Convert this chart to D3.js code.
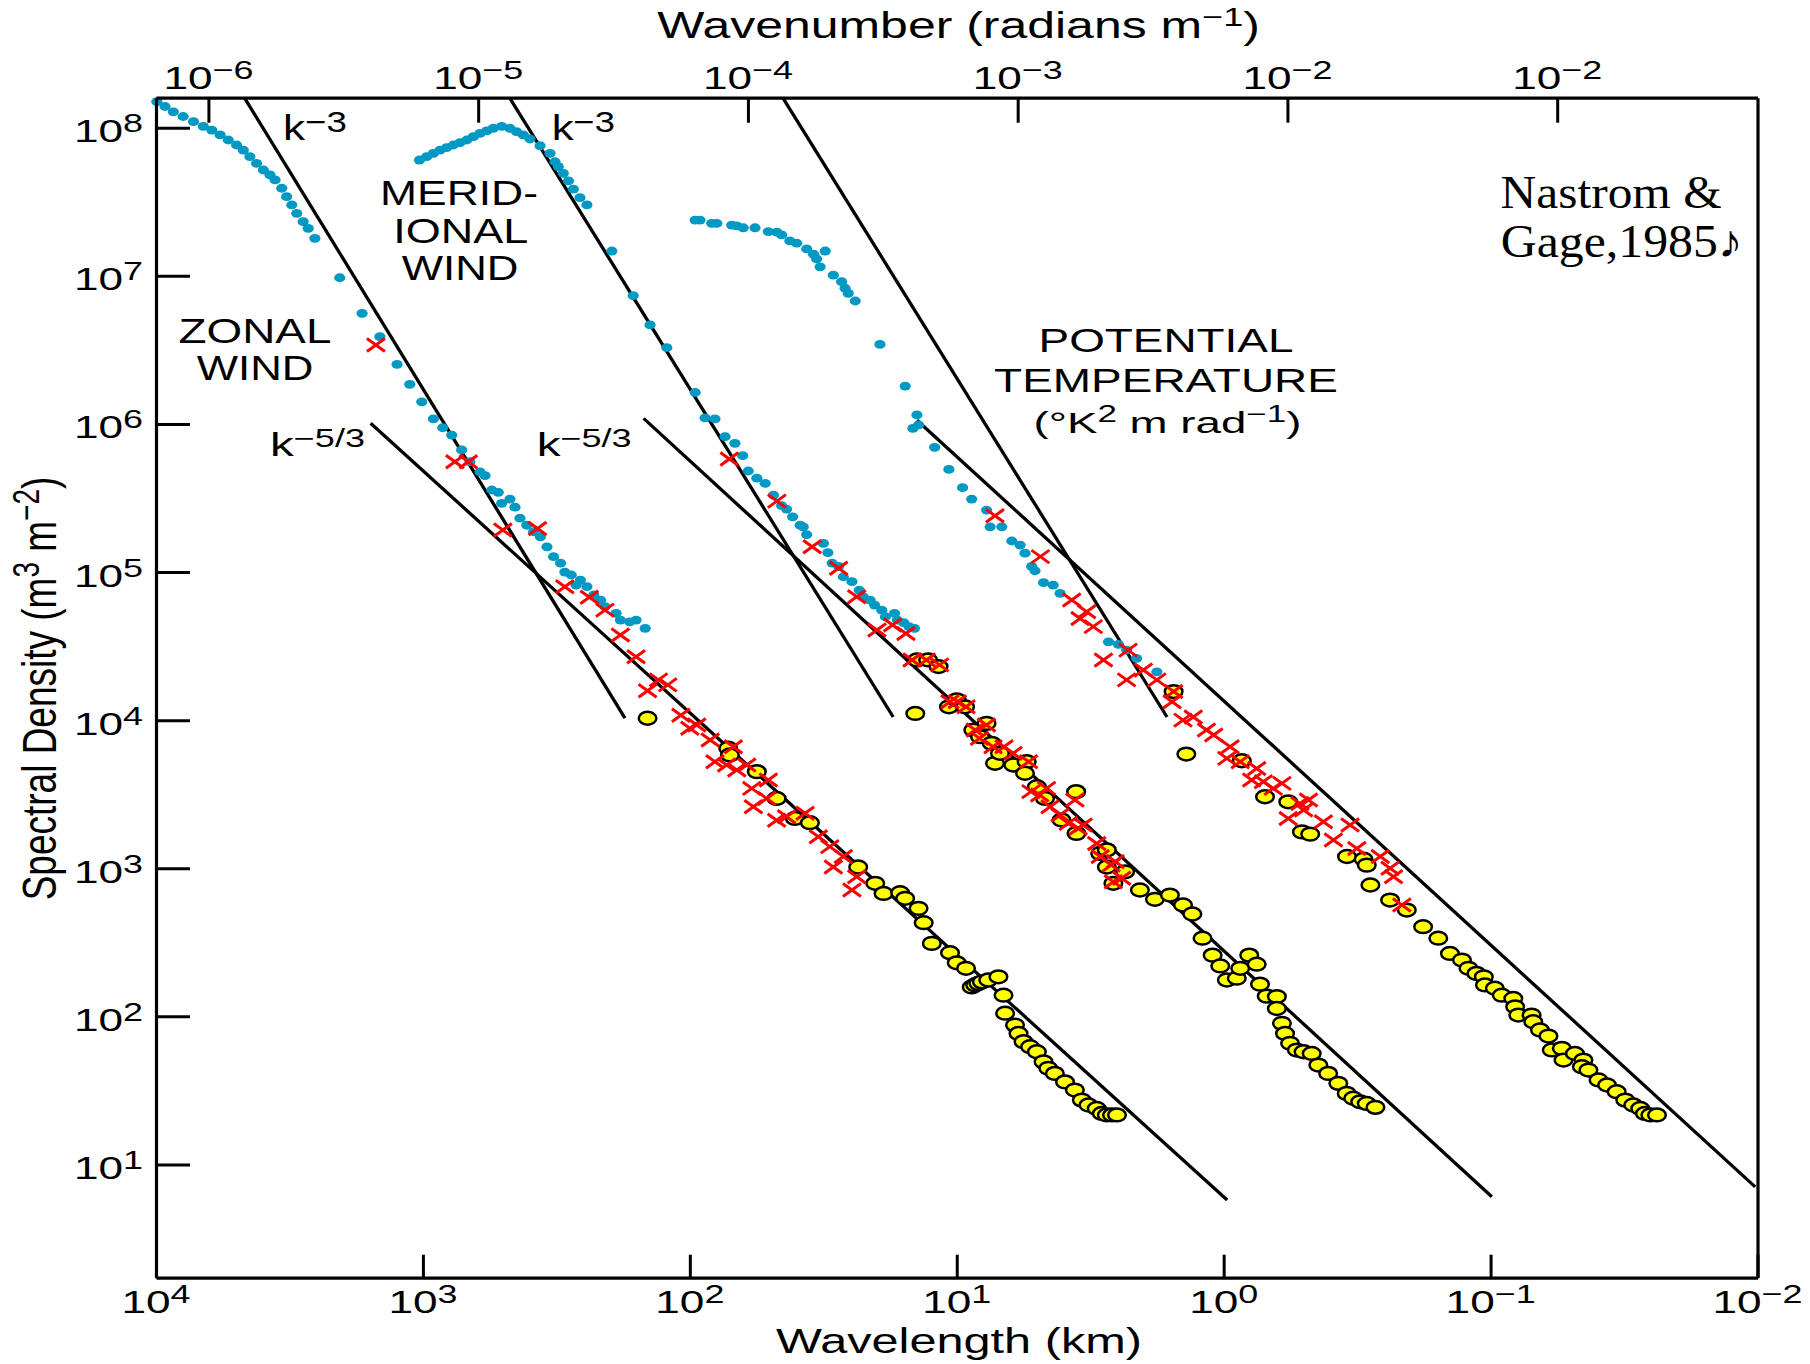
<!DOCTYPE html>
<html>
<head>
<meta charset="utf-8">
<script src="https://cdn.jsdelivr.net/npm/d3@7"></script>
<style>
  html, body { margin: 0; padding: 0; background: #fff; }
  svg { display: block; }
</style>
</head>
<body>
<svg id="chart" width="1810" height="1364"></svg>
<script>
// ---------------- DATA (wavelength km, spectral density) ----------------
const xTicks = [1e4, 1e3, 1e2, 1e1, 1e0, 1e-1, 1e-2];
const xTickExp = ["4", "3", "2", "1", "0", "−1", "−2"];
const yTicks = [1e8, 1e7, 1e6, 1e5, 1e4, 1e3, 1e2, 1e1];
const yTickExp = ["8", "7", "6", "5", "4", "3", "2", "1"];
const kTicks = [1e-6, 1e-5, 1e-4, 1e-3, 1e-2, 1e-1];
const kTickExp = ["−6", "−5", "−4", "−3", "−2", "−2"];

// Zonal wind
const zonalBlue = [[9930,1.50e8],[9250,1.39e8],[8610,1.28e8],[7910,1.19e8],[7240,1.10e8],[6650,1.02e8],[6180,9.64e7],[5750,8.93e7],[5360,8.26e7],[4990,7.64e7],[4710,7.06e7],[4450,6.37e7],[4200,5.75e7],[3960,5.18e7],[3740,4.80e7],[3580,4.44e7],[3380,3.90e7],[3240,3.42e7],[3100,3.01e7],[2970,2.64e7],[2810,2.32e7],[2690,2.09e7],[2540,1.79e7],[2050,9.7e6],[1690,5.58e6],[1450,3.88e6],[1250,2.52e6],[1120,1.85e6],[1010,1.41e6],[914,1.08e6],[843,9.42e5],[780,8.41e5],[716,6.67e5],[667,5.56e5],[611,4.75e5],[585,4.47e5],[552,3.58e5],[522,3.45e5],[507,2.91e5],[472,3.11e5],[452,2.74e5],[433,2.31e5],[408,2.07e5],[385,1.87e5],[363,1.73e5],[343,1.48e5],[324,1.27e5],[305,1.15e5],[294,1.00e5],[278,9.55e4],[257,8.83e4],[267,8.17e4],[243,7.96e4],[229,7.00e4],[216,6.47e4],[208,5.83e4],[189,5.26e4],[182,4.74e4],[168,4.61e4],[159,4.74e4],[147,4.17e4]];
const zonalRed = [[1500,3.41e6],[759,5.56e5],[676,5.56e5],[502,1.92e5],[372,1.97e5],[294,7.96e4],[238,6.75e4],[208,5.53e4],[182,3.76e4],[159,2.68e4],[131,1.87e4],[121,1.73e4],[144,1.58e4],[108,1.08e4],[100,8.81e3],[94.2,9.27e3],[83.9,7.35e3],[80.5,5.24e3],[72.8,4.98e3],[68.7,6.61e3],[66.7,4.60e3],[61.2,4.98e3],[58.6,3.46e3],[50.8,3.94e3],[57.8,2.60e3],[51.5,2.96e3],[47.3,2.11e3],[43.4,2.23e3],[37.0,2.35e3],[33.0,1.63e3],[29.9,1.40e3],[26.6,1.20e3],[29.0,1.02e3],[23.7,877],[24.7,713]];
const zonalYellow = [[144,1.03e4],[71.8,6.46e3],[70.8,5.82e3],[56.1,4.49e3],[47.3,2.96e3],[40.4,2.17e3],[35.5,2.03e3],[23.4,1.02e3],[20.2,791],[18.8,676],[16.3,684],[15.6,627],[13.9,536],[13.3,429],[12.4,311],[10.6,269],[10.0,230],[9.23,211],[8.79,158],[8.53,163],[8.30,167],[8.05,171],[7.62,176],[6.98,185],[6.68,139],[6.59,105],[6.05,87.3],[5.87,76.7],[5.62,67.5],[5.31,62.4],[5.01,57.7],[4.73,49.3],[4.54,44.6],[4.29,41.2],[3.93,36.1],[3.61,31.8],[3.40,27.2],[3.21,25.2],[2.99,23.9],[2.86,22.1],[2.74,21.6],[2.62,21.6],[2.51,21.6]];

// Meridional wind
const meridBlue = [[1030,6.05e7],[968,6.37e7],[914,6.71e7],[863,7.06e7],[815,7.33e7],[769,7.64e7],[726,7.93e7],[685,8.26e7],[647,8.69e7],[611,9.16e7],[577,9.51e7],[545,9.91e7],[507,1.02e8],[472,9.91e7],[446,9.40e7],[421,8.93e7],[397,8.39e7],[364,7.55e7],[334,6.71e7],[320,5.89e7],[311,5.46e7],[298,4.92e7],[285,4.37e7],[273,3.85e7],[258,3.37e7],[243,3.01e7],[196,1.47e7],[163,7.35e6],[141,4.66e6],[122,3.27e6],[95.5,1.63e6],[87.7,1.10e6],[80.5,1.08e6],[73.8,8.20e5],[67.8,7.40e5],[63.4,6.10e5],[60.4,4.81e5],[56.1,4.30e5],[52.2,3.97e5],[48.6,3.31e5],[45.3,2.81e5],[43.4,2.66e5],[41.2,2.36e5],[38.6,2.07e5],[37.6,2.02e5],[36.5,1.79e5],[31.6,1.56e5],[30.4,1.35e5],[29.3,1.15e5],[27.7,1.09e5],[26.6,9.29e4],[24.7,8.61e4],[23.2,7.55e4],[22.4,6.81e4],[21.1,6.47e4],[20.3,5.98e4],[19.1,5.53e4],[18.5,4.99e4],[17.1,5.26e4],[16.7,4.74e4],[15.8,4.55e4],[15.1,4.28e4],[14.4,4.17e4]];
const meridRed = [[71.1,5.79e5],[47.2,3.01e5],[34.8,1.48e5],[27.7,1.06e5],[23.7,6.81e4],[19.9,4.06e4],[17.4,4.39e4],[15.5,3.85e4],[14.7,2.55e4],[13.0,2.55e4],[11.6,2.36e4],[10.6,1.33e4],[9.95,1.33e4],[9.23,1.23e4],[8.53,8.57e3],[7.74,9.27e3],[8.22,7.53e3],[7.31,6.61e3],[6.65,6.61e3],[6.15,5.97e3],[5.38,5.24e3],[5.27,3.29e3],[4.89,3.12e3],[4.61,3.46e3],[3.61,2.89e3],[4.47,2.60e3],[4.10,2.29e3],[3.82,2.01e3],[3.51,1.86e3],[3.36,1.96e3],[2.99,1.47e3],[2.90,1.20e3],[2.55,1.11e3],[2.59,811],[2.41,855],[2.64,1.05e3]];
const meridYellow = [[14.3,1.11e4],[14.1,2.55e4],[12.8,2.55e4],[11.7,2.30e4],[10.7,1.23e4],[10.0,1.37e4],[9.31,1.23e4],[8.67,8.57e3],[7.73,9.51e3],[8.18,7.73e3],[7.40,6.97e3],[7.19,5.11e3],[6.89,5.97e3],[6.14,4.98e3],[5.47,5.24e3],[5.55,4.38e3],[5.01,3.55e3],[4.67,2.96e3],[3.57,3.29e3],[4.05,2.12e3],[3.56,1.72e3],[2.90,1.26e3],[2.74,1.33e3],[2.74,1.02e3],[2.59,791],[2.34,946],[2.06,713],[1.81,617],[1.59,659],[1.42,565],[1.31,491],[1.20,337],[1.10,259],[1.03,219],[0.973,176],[0.893,181],[0.867,211],[0.802,259],[0.752,225],[0.731,165],[0.690,137],[0.632,136],[0.632,113],[0.605,89.7],[0.589,76.7],[0.564,65.8],[0.532,59.2],[0.502,57.7],[0.468,56.2],[0.442,46.9],[0.406,41.2],[0.372,35.3],[0.346,30.2],[0.327,28.0],[0.308,26.5],[0.291,25.8],[0.270,24.3]];

// Potential temperature
const thetaBlue = [[95.5,2.38e7],[91.6,2.38e7],[82.8,2.26e7],[79.3,2.26e7],[69.7,2.20e7],[66.7,2.17e7],[63.1,2.11e7],[57.0,2.11e7],[50.8,1.99e7],[47.2,1.97e7],[45.3,1.89e7],[42.2,1.72e7],[39.8,1.66e7],[36.5,1.52e7],[34.4,1.40e7],[31.1,1.47e7],[33.5,1.30e7],[32.5,1.15e7],[29.0,1.01e7],[27.0,9.12e6],[26.2,8.24e6],[25.5,7.62e6],[24.0,6.76e6],[19.4,3.44e6],[15.6,1.80e6],[14.1,1.15e6],[13.9,9.84e5],[14.6,9.33e5],[12.1,6.95e5],[10.7,4.93e5],[9.51,3.71e5],[8.79,3.11e5],[7.73,2.62e5],[7.50,2.02e5],[6.78,2.02e5],[6.22,1.62e5],[5.79,1.52e5],[5.55,1.34e5],[5.24,1.09e5],[5.09,1.02e5],[4.73,8.47e4],[4.35,8.17e4],[4.10,7.18e4],[2.70,3.38e4],[2.48,3.25e4],[2.31,2.97e4],[2.12,2.61e4],[1.78,2.12e4]];
const thetaRed = [[7.19,2.40e5],[4.86,1.27e5],[3.71,6.47e4],[3.26,5.40e4],[3.45,4.86e4],[3.08,4.28e4],[2.82,2.55e4],[2.28,2.97e4],[2.31,1.87e4],[2.00,2.18e4],[1.78,1.87e4],[1.54,1.56e4],[1.56,1.33e4],[1.42,1.00e4],[1.30,1.05e4],[1.16,8.57e3],[1.09,7.93e3],[0.946,6.61e3],[0.973,5.52e3],[0.867,5.24e3],[0.752,4.72e3],[0.785,3.94e3],[0.710,3.84e3],[0.605,3.74e3],[0.652,3.46e3],[0.518,2.74e3],[0.481,2.89e3],[0.502,2.47e3],[0.573,2.17e3],[0.423,2.06e3],[0.336,1.96e3],[0.388,1.55e3],[0.317,1.36e3],[0.259,1.20e3],[0.238,1.00e3],[0.231,877],[0.215,565]];
const thetaYellow = [[1.54,1.56e4],[1.38,5.90e3],[0.855,5.32e3],[0.700,3.04e3],[0.573,2.81e3],[0.509,1.76e3],[0.474,1.70e3],[0.345,1.20e3],[0.299,1.15e3],[0.291,1.05e3],[0.282,771],[0.238,610],[0.206,522],[0.179,403],[0.157,337],[0.142,266],[0.128,240],[0.121,211],[0.113,195],[0.106,185],[0.105,163],[0.0964,155],[0.0908,139],[0.0822,132],[0.0809,116],[0.0787,102],[0.0702,102],[0.0692,92.0],[0.0653,80.9],[0.0607,73.6],[0.0590,59.3],[0.0541,60.8],[0.0533,50.7],[0.0483,56.2],[0.0449,50.7],[0.0455,45.7],[0.0430,43.4],[0.0394,37.2],[0.0366,34.4],[0.0337,31.0],[0.0313,27.2],[0.0292,25.2],[0.0275,23.9],[0.0264,22.1],[0.0252,21.6],[0.0238,21.6]];

// Reference power-law lines: [lambda1, S1, lambda2, S2]
const refLines = [
  [4650, 1.58e8, 175, 1.03e4],     // zonal k^-3
  [1570, 1.01e6, 0.97, 5.75],      // zonal k^-5/3
  [472, 1.58e8, 17.3, 1.05e4],     // meridional k^-3
  [149, 1.09e6, 0.0989, 6.05],     // meridional k^-5/3
  [44.7, 1.58e8, 1.63, 1.05e4],    // theta k^-3
  [14.1, 1.06e6, 0.0102, 7.06]     // theta k^-5/3
];

// ---------------- LAYOUT ----------------
const SANS = "'Liberation Sans', Arial, Helvetica, sans-serif";
const SERIF = "'Liberation Serif', 'Times New Roman', serif";
const L = 156, R = 1757.5, T = 97.7, B = 1277.7;

const svg = d3.select("#chart");
svg.append("rect").attr("width", 1810).attr("height", 1364).attr("fill", "#fff");

const x = d3.scaleLog().domain([1e4, 1e-2]).range([L, R]);
const y = d3.scaleLog().domain([1.72, 1.594e8]).range([B, T]);
const k = d3.scaleLog().domain([6.393e-7, 0.5528]).range([L, R]);

svg.append("clipPath").attr("id", "plotclip")
  .append("rect").attr("x", L).attr("y", T).attr("width", R - L).attr("height", B - T);

// Stretched text helper (the original figure is horizontally stretched)
function sText(parent, o) {
  const g = parent.append("g").attr("transform", `translate(${o.x},${o.y})`);
  const inner = g.append("g");
  const t = inner.append("text")
    .attr("font-family", o.family || SANS)
    .attr("font-size", o.size)
    .attr("text-anchor", o.anchor || "start")
    .attr("fill", "#000");
  let raised = false;
  o.parts.forEach(([s, sup]) => {
    const ts = t.append("tspan").text(s);
    if (sup && !raised) { ts.attr("font-size", o.supSize).attr("dy", -o.raise); raised = true; }
    else if (!sup && raised) { ts.attr("dy", o.raise); raised = false; }
  });
  let sx = o.sx || 1;
  if (o.width) sx = o.width / t.node().getComputedTextLength();
  inner.attr("transform", `scale(${sx},1)` + (o.rotate ? ` rotate(${o.rotate})` : ""));
  return g;
}

// ---------------- REFERENCE LINES ----------------
const gLines = svg.append("g").attr("clip-path", "url(#plotclip)");
gLines.selectAll("line").data(refLines).join("line")
  .attr("x1", d => x(d[0])).attr("y1", d => y(d[1]))
  .attr("x2", d => x(d[2])).attr("y2", d => y(d[3]))
  .attr("stroke", "#000").attr("stroke-width", 3.3);

// ---------------- MARKERS ----------------
const yellowAll = zonalYellow.concat(meridYellow, thetaYellow);
const blueAll = zonalBlue.concat(meridBlue, thetaBlue);
const redAll = zonalRed.concat(meridRed, thetaRed);

svg.append("g").selectAll("ellipse").data(yellowAll).join("ellipse")
  .attr("cx", d => x(d[0])).attr("cy", d => y(d[1]))
  .attr("rx", 8.8).attr("ry", 6.4)
  .attr("fill", "#ffff00").attr("stroke", "#000").attr("stroke-width", 2.5);

svg.append("g").selectAll("ellipse").data(blueAll).join("ellipse")
  .attr("cx", d => x(d[0])).attr("cy", d => y(d[1]))
  .attr("rx", 5.6).attr("ry", 4.4)
  .attr("fill", "#0099c4");

svg.append("g").selectAll("path").data(redAll).join("path")
  .attr("transform", d => `translate(${x(d[0])},${y(d[1])})`)
  .attr("d", "M-9,-6.5L9,6.5M-9,6.5L9,-6.5")
  .attr("stroke", "#ff0000").attr("stroke-width", 3).attr("fill", "none");

// ---------------- AXES ----------------
function styleAxis(g) {
  g.select(".domain").attr("stroke", "#000").attr("stroke-width", 3.2);
  g.selectAll(".tick line").attr("stroke", "#000").attr("stroke-width", 3);
  g.selectAll(".tick text").remove();
}
svg.append("g").attr("transform", `translate(0,${B})`)
  .call(d3.axisBottom(x).tickValues(xTicks).tickSize(-23).tickSizeOuter(0).tickFormat(() => ""))
  .call(styleAxis);
svg.append("g").attr("transform", `translate(0,${T})`)
  .call(d3.axisTop(k).tickValues(kTicks).tickSize(-25).tickSizeOuter(0).tickFormat(() => ""))
  .call(styleAxis);
svg.append("g").attr("transform", `translate(${L},0)`)
  .call(d3.axisLeft(y).tickValues(yTicks).tickSize(-34).tickSizeOuter(0).tickFormat(() => ""))
  .call(styleAxis);
svg.append("g").attr("transform", `translate(${R},0)`)
  .call(d3.axisRight(y).tickValues([]).tickSizeOuter(0))
  .call(styleAxis);

// tick labels
const TS = 32, TSS = 26, TR = 10, TSX = 1.38;
xTicks.forEach((v, i) => sText(svg, { x: x(v), y: 1313, anchor: "middle", size: TS, supSize: TSS, raise: TR, sx: TSX, parts: [["10", false], [xTickExp[i], true]] }));
yTicks.forEach((v, i) => sText(svg, { x: 143, y: y(v) + 14.5, anchor: "end", size: TS, supSize: TSS, raise: TR, sx: TSX, parts: [["10", false], [yTickExp[i], true]] }));
kTicks.forEach((v, i) => sText(svg, { x: k(v), y: 89.3, anchor: "middle", size: TS, supSize: TSS, raise: TR, sx: TSX, parts: [["10", false], [kTickExp[i], true]] }));

// axis titles
sText(svg, { x: 958.5, y: 38, anchor: "middle", size: 36, supSize: 26, raise: 12, width: 603,
  parts: [["Wavenumber (radians m", false], ["−1", true], [")", false]] });
sText(svg, { x: 959, y: 1353, anchor: "middle", size: 36, width: 366, parts: [["Wavelength (km)", false]] });
sText(svg, { x: 56, y: 688.5, anchor: "middle", size: 37, supSize: 28, raise: 13, sx: 1.3, rotate: -90,
  parts: [["Spectral Density (m", false], ["3", true], [" m", false], ["−2", true], [")", false]] });

// ---------------- ANNOTATIONS ----------------
sText(svg, { x: 255, y: 343.3, anchor: "middle", size: 35, width: 153, parts: [["ZONAL", false]] });
sText(svg, { x: 255, y: 380, anchor: "middle", size: 35, width: 116.7, parts: [["WIND", false]] });
sText(svg, { x: 459, y: 205, anchor: "middle", size: 35, width: 158, parts: [["MERID-", false]] });
sText(svg, { x: 460.8, y: 243.3, anchor: "middle", size: 35, width: 135, parts: [["IONAL", false]] });
sText(svg, { x: 460, y: 280, anchor: "middle", size: 35, width: 116.7, parts: [["WIND", false]] });
sText(svg, { x: 1166, y: 351.7, anchor: "middle", size: 33, width: 255, parts: [["POTENTIAL", false]] });
sText(svg, { x: 1166, y: 391.7, anchor: "middle", size: 33, width: 344, parts: [["TEMPERATURE", false]] });
sText(svg, { x: 1167.5, y: 432.7, anchor: "middle", size: 30, supSize: 23, raise: 11, width: 268,
  parts: [["(°K", false], ["2", true], [" m rad", false], ["−1", true], [")", false]] });

sText(svg, { x: 283, y: 140, size: 35, supSize: 29, raise: 8, width: 64, parts: [["k", false], ["−3", true]] });
sText(svg, { x: 551.7, y: 140, size: 35, supSize: 29, raise: 8, width: 63.3, parts: [["k", false], ["−3", true]] });
sText(svg, { x: 270, y: 455.7, size: 33, supSize: 25, raise: 9, width: 95, parts: [["k", false], ["−5/3", true]] });
sText(svg, { x: 536.7, y: 455.7, size: 33, supSize: 25, raise: 9, width: 95, parts: [["k", false], ["−5/3", true]] });

sText(svg, { x: 1500.6, y: 207.5, size: 46, family: SERIF, width: 221, parts: [["Nastrom &", false]] });
sText(svg, { x: 1500.8, y: 256.7, size: 46, family: SERIF, width: 242, parts: [["Gage,1985♪", false]] });
</script>
</body>
</html>
